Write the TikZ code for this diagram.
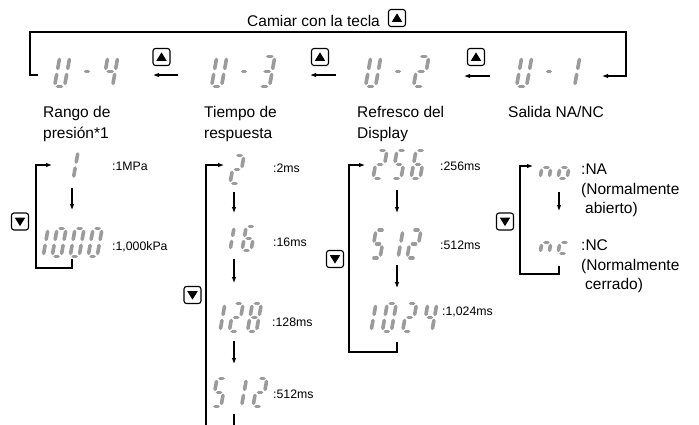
\documentclass[tikz,border=0pt]{standalone}
\usepackage{fontspec}
\setmainfont{Liberation Sans}
\usetikzlibrary{arrows.meta,calc}
\definecolor{segc}{RGB}{155,155,155}
\newcommand\Ssl{0.18}
\newcommand\Dg{3}
\newcommand\SegLine[4]{\draw[seg] ({\Dx+(#1)+\Ssl*(#2)},{\Dy-(#2)}) -- ({\Dx+(#3)+\Ssl*(#4)},{\Dy-(#4)});}
\newcommand\Sega{\SegLine{\Dg}{\Dh}{\Dw-\Dg}{\Dh}}
\newcommand\Segb{\SegLine{\Dw}{\Dh-\Dg}{\Dw}{\Dh/2+\Dg}}
\newcommand\Segc{\SegLine{\Dw}{\Dh/2-\Dg}{\Dw}{\Dg}}
\newcommand\Segd{\SegLine{\Dg}{0}{\Dw-\Dg}{0}}
\newcommand\Sege{\SegLine{0}{\Dg}{0}{\Dh/2-\Dg}}
\newcommand\Segf{\SegLine{0}{\Dh/2+\Dg}{0}{\Dh-\Dg}}
\newcommand\Segg{\SegLine{\Dg}{\Dh/2}{\Dw-\Dg}{\Dh/2}}
\newcommand\Segm{\SegLine{\Dw/2-1.3}{\Dh/2}{\Dw/2+1.3}{\Dh/2}}
% x0, ybottom, width, height, segments
\newcommand\Dig[5]{\def\Dx{(#1)}\def\Dy{(#2)}\def\Dw{#3}\def\Dh{#4}\edef\DSegs{#5}%
  \foreach \q in \DSegs {\csname Seg\q\endcsname}}
\newcommand\TopDisp[2]{%
  \Dig{#1-32.5}{86.4}{10}{30}{b,c,d,e,f}%
  \Dig{#1-7.7}{86.4}{10}{30}{m}%
  \Dig{#1+15.5}{86.4}{10}{30}{#2}}
\newcommand\UpTri[1]{\fill ([xshift=-5.2pt,yshift=-3.8pt]#1.center) -- ([xshift=5.2pt,yshift=-3.8pt]#1.center) -- ([yshift=4.6pt]#1.center) -- cycle;}
\newcommand\DnTri[1]{\fill ([xshift=-5.2pt,yshift=3.8pt]#1.center) -- ([xshift=5.2pt,yshift=3.8pt]#1.center) -- ([yshift=-4.6pt]#1.center) -- cycle;}
\begin{document}
\begin{tikzpicture}[x=1pt,y=-1pt,
  seg/.style={line width=3.6pt, line cap=round, draw=segc},
  arr/.style={line width=1.1pt, -{Latex[length=6pt,width=4.6pt]}},
  keybox/.style={draw, line width=1.1pt, rounded corners=2.5pt, minimum width=17pt, minimum height=17pt, inner sep=0pt},
  ph/.style={inner sep=0pt, outer sep=0pt},
  txt/.style={inner sep=0pt, font=\fontsize{15.5}{18.5}\selectfont},
  lbl/.style={txt, align=left},
  val/.style={inner sep=0pt, font=\fontsize{12.3}{14}\selectfont, anchor=base west}]
\useasboundingbox (0,0) rectangle (699,424);
\clip (0,0) rectangle (699,424);

% ---------- title ----------
\node[txt, anchor=base west] (ttl) at (247,26) {Camiar con la tecla};
\node[keybox] (k0) at (397,18) {};
\UpTri{k0}

% ---------- top row ----------
\node[ph, minimum width=90pt, minimum height=34pt] (u4) at (83,75) {};
\node[ph, minimum width=80pt, minimum height=34pt] (u3) at (241,75) {};
\node[ph, minimum width=80pt, minimum height=34pt] (u2) at (398,75) {};
\node[ph, minimum width=106pt, minimum height=34pt] (u1) at (549,76) {};
\TopDisp{87}{b,c,f,g}
\TopDisp{244}{a,b,c,d,g}
\TopDisp{398}{a,b,d,e,g}
\TopDisp{549}{b,c}

\node[keybox] (k1) at (161.5,57) {};
\node[keybox] (k2) at (320,57) {};
\node[keybox] (k3) at (476,57) {};
\UpTri{k1}\UpTri{k2}\UpTri{k3}

\coordinate (a1s) at (178,75); \coordinate (a1e) at (153,75);
\coordinate (a2s) at (336,75); \coordinate (a2e) at (310,75);
\coordinate (a3s) at (490,76); \coordinate (a3e) at (464,76);
\draw[arr] (a1s) -- (a1e);
\draw[arr] (a2s) -- (a2e);
\draw[arr] (a3s) -- (a3e);
\coordinate (tr) at (626,32);
\draw[arr] (u4.west) -- ++(-8,0) |- (tr) |- (u1.east);

\node[lbl, anchor=north west] (l4) at (43,106.5) {Rango de\\[2.5pt]presión*1};
\node[lbl, anchor=north west] (l3) at (204,106.5) {Tiempo de\\[2.5pt]respuesta};
\node[lbl, anchor=north west] (l2) at (357,106.5) {Refresco del\\[2.5pt]Display};
\node[txt, anchor=base west] (l1) at (508,117) {Salida NA/NC};

% ---------- section 1 ----------
\node[ph, minimum width=40pt, minimum height=46pt] (s1a) at (72,165) {};
\node[ph, minimum width=40pt, minimum height=49pt] (s1b) at (72,234.5) {};
\Dig{64.2}{179}{9}{28}{b,c}
\Dig{34.1}{256.4}{9}{28}{b,c}
\Dig{52.1}{256.4}{9}{28}{a,b,c,d,e,f}
\Dig{70.1}{256.4}{9}{28}{a,b,c,d,e,f}
\Dig{88.1}{256.4}{9}{28}{a,b,c,d,e,f}
\node[val] (v11) at (112,170) {:1MPa};
\node[val] (v12) at (112,250.5) {:1,000kPa};
\draw[arr] (s1a) -- (s1b);
\coordinate (c1) at (36,268);
\draw[arr] (s1b.south) |- (c1) |- (s1a.west);
\node[keybox] (kd1) at (20,221.5) {};
\DnTri{kd1}

% ---------- section 2 ----------
\node[ph, minimum width=20pt, minimum height=54pt] (s2a) at (234,165) {};
\node[ph, minimum width=20pt, minimum height=46pt] (s2b) at (234,236) {};
\node[ph, minimum width=20pt, minimum height=58pt] (s2c) at (234,312) {};
\node[ph, minimum width=20pt, minimum height=50pt] (s2d) at (234,389) {};
\Dig{230}{183.4}{9}{28}{a,b,g,e,d}
\Dig{221}{250.4}{9}{24}{b,c}
\Dig{242}{250.4}{9}{24}{a,c,d,e,f,g}
\Dig{211}{331.4}{9}{28}{b,c}
\Dig{229.2}{331.4}{9}{28}{a,b,g,e,d}
\Dig{247.4}{331.4}{9}{28}{a,b,c,d,e,f,g}
\Dig{212}{406.4}{9}{28}{a,f,g,c,d}
\Dig{232.5}{406.4}{9}{28}{b,c}
\Dig{253}{406.4}{9}{28}{a,b,g,e,d}
\node[val] (v21) at (273,172) {:2ms};
\node[val] (v22) at (273,246) {:16ms};
\node[val] (v23) at (272,326) {:128ms};
\node[val] (v24) at (273,398) {:512ms};
\draw[arr] (s2a) -- (s2b);
\draw[arr] (s2b) -- (s2c);
\draw[arr] (s2c) -- (s2d);
\coordinate (c2) at (206,440);
\draw[arr] (s2d.south) |- (c2) |- (s2a.west);
\node[keybox] (kd2) at (192.5,295) {};
\DnTri{kd2}

% ---------- section 3 ----------
\node[ph, minimum width=64pt, minimum height=50pt] (s3a) at (397,165) {};
\node[ph, minimum width=64pt, minimum height=52pt] (s3b) at (397,239) {};
\node[ph, minimum width=64pt, minimum height=54pt] (s3c) at (397,315) {};
\Dig{373}{178.4}{9}{28}{a,b,g,e,d}
\Dig{392}{178.4}{9}{28}{a,f,g,c,d}
\Dig{411}{178.4}{9}{28}{a,c,d,e,f,g}
\Dig{371}{258}{9}{28}{a,f,g,c,d}
\Dig{389}{258}{9}{28}{b,c}
\Dig{407}{258}{9}{28}{a,b,g,e,d}
\Dig{362}{331.4}{9}{28}{b,c}
\Dig{382.3}{331.4}{9}{28}{a,b,c,d,e,f}
\Dig{402.6}{331.4}{9}{28}{a,b,g,e,d}
\Dig{422.9}{331.4}{9}{28}{f,g,b,c}
\node[val] (v31) at (440,170) {:256ms};
\node[val] (v32) at (440,249.5) {:512ms};
\node[val] (v33) at (442,315) {:1,024ms};
\draw[arr] (s3a) -- (s3b);
\draw[arr] (s3b) -- (s3c);
\coordinate (c3) at (349,352);
\draw[arr] (s3c.south) |- (c3) |- (s3a.west);
\node[keybox] (kd3) at (335,259) {};
\DnTri{kd3}

% ---------- section 4 ----------
\node[ph, minimum width=52pt, minimum height=52pt] (s4a) at (559,166) {};
\node[ph, minimum width=52pt, minimum height=55pt] (s4b) at (559,238.5) {};
\Dig{540}{178.4}{9}{22}{c,e,g}
\Dig{558}{178.4}{9}{22}{c,d,e,g}
\Dig{540}{253.4}{9}{22}{c,e,g}
\Dig{558}{253.4}{9}{22}{d,e,g}
\node[lbl, anchor=north west] (na) at (581,164) {:NA\\[1pt](Normalmente\\[1pt]\hspace*{4pt}abierto)};
\node[lbl, anchor=north west] (nc) at (581,239.5) {:NC\\[1pt](Normalmente\\[1pt]\hspace*{4pt}cerrado)};
\draw[arr] (s4a) -- (s4b);
\coordinate (c4) at (520,274);
\draw[arr] (s4b.south) |- (c4) |- (s4a.west);
\node[keybox] (kd4) at (505,221.5) {};
\DnTri{kd4}
\end{tikzpicture}
\end{document}
